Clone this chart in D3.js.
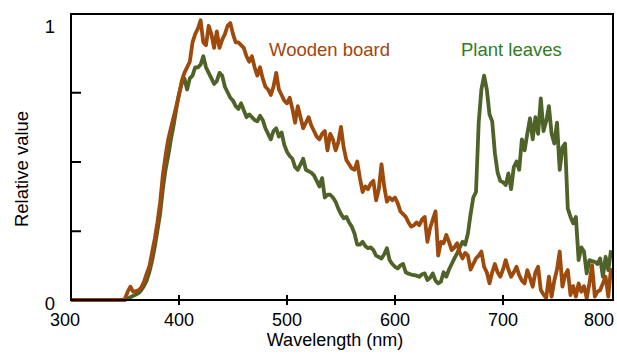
<!DOCTYPE html>
<html>
<head>
<meta charset="utf-8">
<script src="https://cdn.jsdelivr.net/npm/d3@7/dist/d3.min.js"></script>
<style>
  html, body { margin: 0; padding: 0; background: #fff; }
  svg { display: block; font-family: "Liberation Sans", Arial, sans-serif; }
</style>
</head>
<body>
<svg id="chart" width="617" height="354"></svg>
<script>
// ---- data ----
const wavelengths = [300].concat(d3.range(340, 800.1, 2.5));

const woodenBoard = [0,
  0, 0, 0, 0, 0.005, 0.03, 0.048, 0.03, 0.032, 0.035,
  0.045, 0.065, 0.094, 0.12, 0.17, 0.22, 0.28, 0.35, 0.45, 0.52,
  0.58, 0.62, 0.66, 0.70, 0.74, 0.79, 0.82, 0.84, 0.86, 0.93,
  0.96, 0.98, 1.01, 0.93, 0.92, 0.99, 0.96, 0.91, 0.97, 0.91,
  0.94, 0.96, 0.99, 1.0, 0.96, 0.93, 0.93, 0.92, 0.91, 0.88,
  0.86, 0.88, 0.84, 0.81, 0.84, 0.80, 0.77, 0.76, 0.74, 0.77,
  0.82, 0.76, 0.74, 0.72, 0.71, 0.73, 0.69, 0.64, 0.70, 0.66,
  0.62, 0.64, 0.66, 0.63, 0.61, 0.59, 0.58, 0.60, 0.61, 0.54,
  0.60, 0.58, 0.54, 0.57, 0.625, 0.55, 0.505, 0.49, 0.475, 0.47,
  0.50, 0.44, 0.39, 0.41, 0.40, 0.42, 0.43, 0.36, 0.40, 0.49,
  0.41, 0.355, 0.37, 0.36, 0.37, 0.35, 0.32, 0.31, 0.30, 0.28,
  0.265, 0.27, 0.28, 0.27, 0.29, 0.30, 0.21, 0.26, 0.29, 0.32,
  0.16, 0.21, 0.205, 0.235, 0.21, 0.18, 0.19, 0.205, 0.17, 0.15,
  0.17, 0.16, 0.11, 0.13, 0.15, 0.16, 0.175, 0.12, 0.10, 0.06,
  0.10, 0.13, 0.10, 0.084, 0.11, 0.144, 0.11, 0.084, 0.10, 0.12,
  0.09, 0.07, 0.06, 0.108, 0.08, 0.048, 0.10, 0.12, 0.036, 0.02,
  0.007, 0.084, 0.012, 0.07, 0.11, 0.175, 0.048, 0.09, 0.108, 0.018,
  0.05, 0.012, 0.06, 0.03, 0.05, 0.006, 0.06, 0.126, 0.012, 0.03,
  0.036, 0.06, 0.084, 0.012, 0.115];

const plantLeaves = [0,
  0, 0, 0, 0, 0, 0.005, 0.01, 0.015, 0.02, 0.025,
  0.035, 0.05, 0.07, 0.10, 0.14, 0.19, 0.25, 0.31, 0.40, 0.47,
  0.52, 0.58, 0.63, 0.69, 0.745, 0.78, 0.80, 0.76, 0.80, 0.81,
  0.84, 0.84, 0.85, 0.88, 0.84, 0.82, 0.80, 0.78, 0.79, 0.82,
  0.81, 0.77, 0.75, 0.73, 0.72, 0.70, 0.69, 0.71, 0.685, 0.66,
  0.67, 0.66, 0.65, 0.645, 0.665, 0.65, 0.62, 0.60, 0.58, 0.61,
  0.62, 0.59, 0.605, 0.56, 0.535, 0.52, 0.51, 0.48, 0.47, 0.49,
  0.51, 0.47, 0.465, 0.46, 0.45, 0.43, 0.41, 0.44, 0.37, 0.38,
  0.38, 0.37, 0.355, 0.33, 0.31, 0.295, 0.30, 0.28, 0.265, 0.24,
  0.20, 0.20, 0.21, 0.195, 0.187, 0.19, 0.18, 0.16, 0.155, 0.15,
  0.165, 0.187, 0.144, 0.13, 0.12, 0.114, 0.125, 0.13, 0.10, 0.095,
  0.092, 0.09, 0.088, 0.084, 0.093, 0.096, 0.072, 0.08, 0.096, 0.07,
  0.06, 0.066, 0.10, 0.084, 0.11, 0.13, 0.15, 0.168, 0.19, 0.21,
  0.20, 0.24, 0.31, 0.37, 0.39, 0.64, 0.76, 0.81, 0.76, 0.67,
  0.645, 0.53, 0.46, 0.43, 0.425, 0.415, 0.457, 0.40, 0.48, 0.50,
  0.47, 0.58, 0.54, 0.60, 0.656, 0.58, 0.66, 0.60, 0.728, 0.61,
  0.645, 0.70, 0.60, 0.565, 0.64, 0.47, 0.55, 0.565, 0.33, 0.30,
  0.277, 0.30, 0.144, 0.19, 0.175, 0.096, 0.144, 0.14, 0.138, 0.13,
  0.15, 0.084, 0.156, 0.108, 0.18];

const xTicks = [300, 400, 500, 600, 700, 800];
const yTicks = [0.25, 0.5, 0.75];
const yLabels = [0, 1];
const seriesNames = ["Wooden board", "Plant leaves"];

// ---- layout ----
const svg = d3.select("#chart");
const plotL = 71, plotR = 613, plotT = 14, plotB = 300;
const x = d3.scaleLinear().domain([300, 800]).range([71, 611]);
const y = d3.scaleLinear().domain([0, 1]).range([300, 23]);

const lineColors = ["#9E4A0C", "#4F6228"];
const textColors = ["#A3440F", "#2F7D1F"];

svg.append("defs").append("clipPath").attr("id", "clip")
  .append("rect").attr("x", plotL).attr("y", plotT)
  .attr("width", plotR - plotL + 2).attr("height", plotB - plotT + 4);

const line = d3.line()
  .x((d, i) => x(wavelengths[i]))
  .y(d => y(d))
  .curve(d3.curveLinear);

const g = svg.append("g").attr("clip-path", "url(#clip)");
g.append("path").datum(plantLeaves)
  .attr("d", line).attr("fill", "none")
  .attr("stroke", lineColors[1]).attr("stroke-width", 3.8)
  .attr("stroke-linejoin", "round");
g.append("path").datum(woodenBoard)
  .attr("d", line).attr("fill", "none")
  .attr("stroke", lineColors[0]).attr("stroke-width", 3.8)
  .attr("stroke-linejoin", "round");

// frame
svg.append("rect")
  .attr("x", plotL).attr("y", plotT)
  .attr("width", plotR - plotL).attr("height", plotB - plotT)
  .attr("fill", "none").attr("stroke", "#000").attr("stroke-width", 2);

// x ticks (crossing the axis)
svg.append("g").selectAll("line").data(xTicks.slice(1, -1)).join("line")
  .attr("x1", d => x(d)).attr("x2", d => x(d))
  .attr("y1", plotB - 5).attr("y2", plotB + 5)
  .attr("stroke", "#000").attr("stroke-width", 2);

// x tick labels
const xLabelShift = {300: -6, 800: -12};
svg.append("g").selectAll("text").data(xTicks).join("text")
  .attr("x", d => x(d) + (xLabelShift[d] || 0))
  .attr("y", 326)
  .attr("text-anchor", "middle")
  .attr("font-size", 18)
  .attr("fill", "#000")
  .text(d => d);

// y ticks (inward)
const yAxis = d3.axisRight(y).tickValues(yTicks).tickSize(10).tickFormat("");
svg.append("g").attr("transform", `translate(${plotL},0)`).call(yAxis)
  .call(s => s.select(".domain").remove())
  .call(s => s.selectAll(".tick line").attr("stroke", "#000").attr("stroke-width", 2));

// y tick labels
svg.append("g").selectAll("text").data(yLabels).join("text")
  .attr("x", 55)
  .attr("y", d => y(d) + 10)
  .attr("text-anchor", "end")
  .attr("font-size", 18.5)
  .attr("fill", "#000")
  .text(d => d);

// axis titles
svg.append("text")
  .attr("transform", "translate(28,169) rotate(-90)")
  .attr("text-anchor", "middle")
  .attr("font-size", 18.5)
  .attr("fill", "#000")
  .text("Relative value");

svg.append("text")
  .attr("x", 335).attr("y", 346)
  .attr("text-anchor", "middle")
  .attr("font-size", 18)
  .attr("fill", "#000")
  .text("Wavelength (nm)");

// series labels
svg.append("text")
  .attr("x", 269).attr("y", 56)
  .attr("font-size", 18.5)
  .attr("fill", textColors[0])
  .text(seriesNames[0]);
svg.append("text")
  .attr("x", 461).attr("y", 56)
  .attr("font-size", 18.5)
  .attr("fill", textColors[1])
  .text(seriesNames[1]);
</script>
</body>
</html>
